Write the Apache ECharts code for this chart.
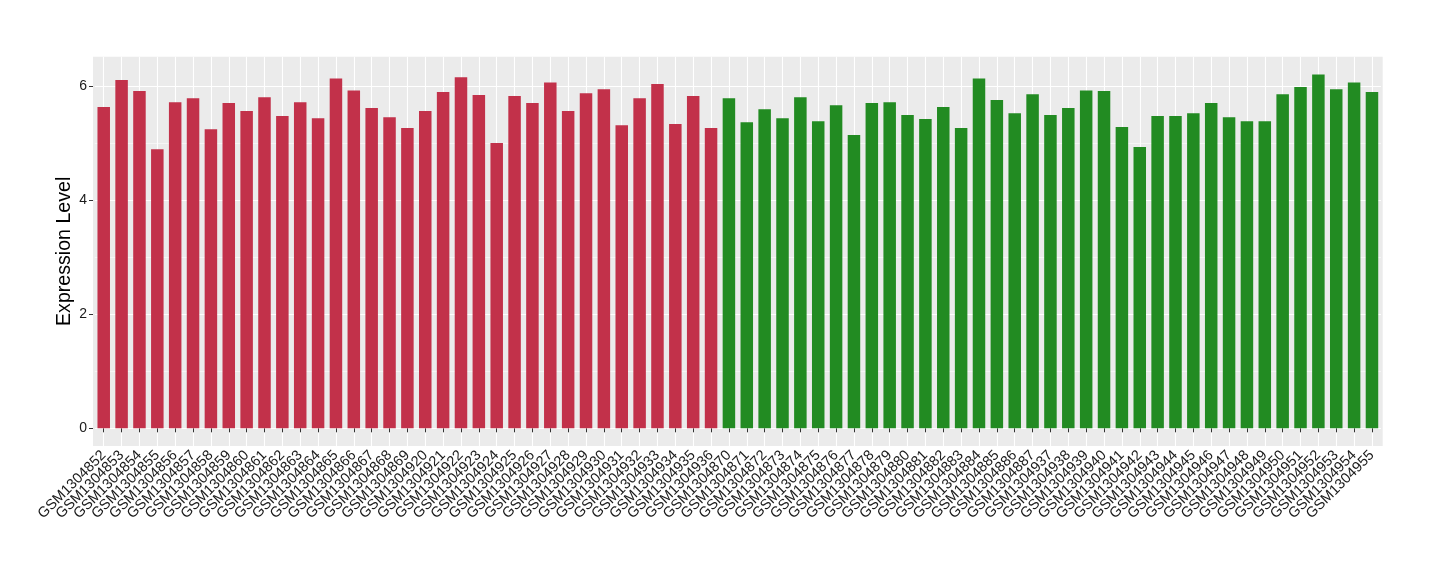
<!DOCTYPE html>
<html>
<head>
<meta charset="utf-8">
<script src="https://cdn.jsdelivr.net/npm/echarts@6/dist/echarts.min.js"></script>
<style>html,body{margin:0;padding:0;background:#fff}#c{width:1440px;height:580px}</style>
</head>
<body>
<div id="c"></div>
<script>
const redSamples = ['GSM1304852','GSM1304853','GSM1304854','GSM1304855','GSM1304856','GSM1304857','GSM1304858','GSM1304859','GSM1304860','GSM1304861','GSM1304862','GSM1304863','GSM1304864','GSM1304865','GSM1304866','GSM1304867','GSM1304868','GSM1304869','GSM1304920','GSM1304921','GSM1304922','GSM1304923','GSM1304924','GSM1304925','GSM1304926','GSM1304927','GSM1304928','GSM1304929','GSM1304930','GSM1304931','GSM1304932','GSM1304933','GSM1304934','GSM1304935','GSM1304936'];
const redValues = [5.63,6.10,5.91,4.89,5.71,5.78,5.24,5.70,5.56,5.80,5.47,5.71,5.43,6.13,5.92,5.61,5.45,5.26,5.56,5.89,6.15,5.84,5.00,5.82,5.70,6.06,5.56,5.87,5.94,5.31,5.78,6.03,5.33,5.82,5.26];
const greenSamples = ['GSM1304870','GSM1304871','GSM1304872','GSM1304873','GSM1304874','GSM1304875','GSM1304876','GSM1304877','GSM1304878','GSM1304879','GSM1304880','GSM1304881','GSM1304882','GSM1304883','GSM1304884','GSM1304885','GSM1304886','GSM1304887','GSM1304937','GSM1304938','GSM1304939','GSM1304940','GSM1304941','GSM1304942','GSM1304943','GSM1304944','GSM1304945','GSM1304946','GSM1304947','GSM1304948','GSM1304949','GSM1304950','GSM1304951','GSM1304952','GSM1304953','GSM1304954','GSM1304955'];
const greenValues = [5.78,5.36,5.59,5.43,5.80,5.38,5.66,5.14,5.70,5.71,5.49,5.42,5.63,5.26,6.13,5.75,5.52,5.85,5.49,5.61,5.92,5.91,5.28,4.93,5.47,5.47,5.52,5.70,5.45,5.38,5.38,5.85,5.98,6.20,5.94,6.06,5.89];
const yTicks = [0, 2, 4, 6];
const yMinorTicks = [1, 3, 5];
const yTitle = 'Expression Level';

const RED = '#C2314A', GREEN = '#228B22';
const categories = redSamples.concat(greenSamples);
const barData = redValues.map(v => ({value: v, itemStyle: {color: RED}}))
  .concat(greenValues.map(v => ({value: v, itemStyle: {color: GREEN}})));

const FONT = '"Liberation Sans", Arial, Helvetica, sans-serif';
const chart = echarts.init(document.getElementById('c'), null, {renderer: 'canvas'});
chart.setOption({
  animation: false,
  backgroundColor: '#fff',
  graphic: [{
    type: 'rect', z: -10, silent: true,
    shape: {x: 93, y: 56.7, width: 1289.7, height: 389.3},
    style: {fill: '#EBEBEB'}
  }],
  grid: {left: 94.8, right: 59.1, top: 56.7, bottom: 134, containLabel: false},
  xAxis: {
    type: 'category',
    data: categories,
    boundaryGap: true,
    axisLine: {show: false},
    axisTick: {show: true, alignWithLabel: true, interval: 0, length: 4, lineStyle: {color: '#333', width: 1}},
    axisLabel: {interval: 0, rotate: 45, margin: 7, fontSize: 14.5, color: '#1a1a1a', fontFamily: FONT},
    splitLine: {show: true, alignWithLabel: true, interval: 0, lineStyle: {color: '#fff', width: 1.1}}
  },
  yAxis: {
    type: 'value',
    min: -0.31, max: 6.51,
    offset: 1.8,
    name: yTitle,
    nameLocation: 'middle',
    nameGap: 18,
    nameRotate: 90,
    nameMoveOverlap: false,
    nameTextStyle: {fontSize: 19.6, color: '#000', fontFamily: FONT},
    axisLine: {show: false},
    axisTick: {show: true, length: 4, customValues: yTicks, lineStyle: {color: '#333', width: 1}},
    axisLabel: {customValues: yTicks, margin: 6, fontSize: 14, color: '#1a1a1a', fontFamily: FONT},
    splitLine: {show: true, lineStyle: {color: '#fff', width: 1.1}}
  },
  series: [{
    type: 'bar',
    data: barData,
    barCategoryGap: '30%',
    z: 10,
    markLine: {
      silent: true,
      symbol: 'none',
      label: {show: false},
      lineStyle: {color: '#fff', width: 0.55, type: 'solid'},
      emphasis: {disabled: true},
      data: yMinorTicks.map(v => ({yAxis: v}))
    }
  }]
});
</script>
</body>
</html>
